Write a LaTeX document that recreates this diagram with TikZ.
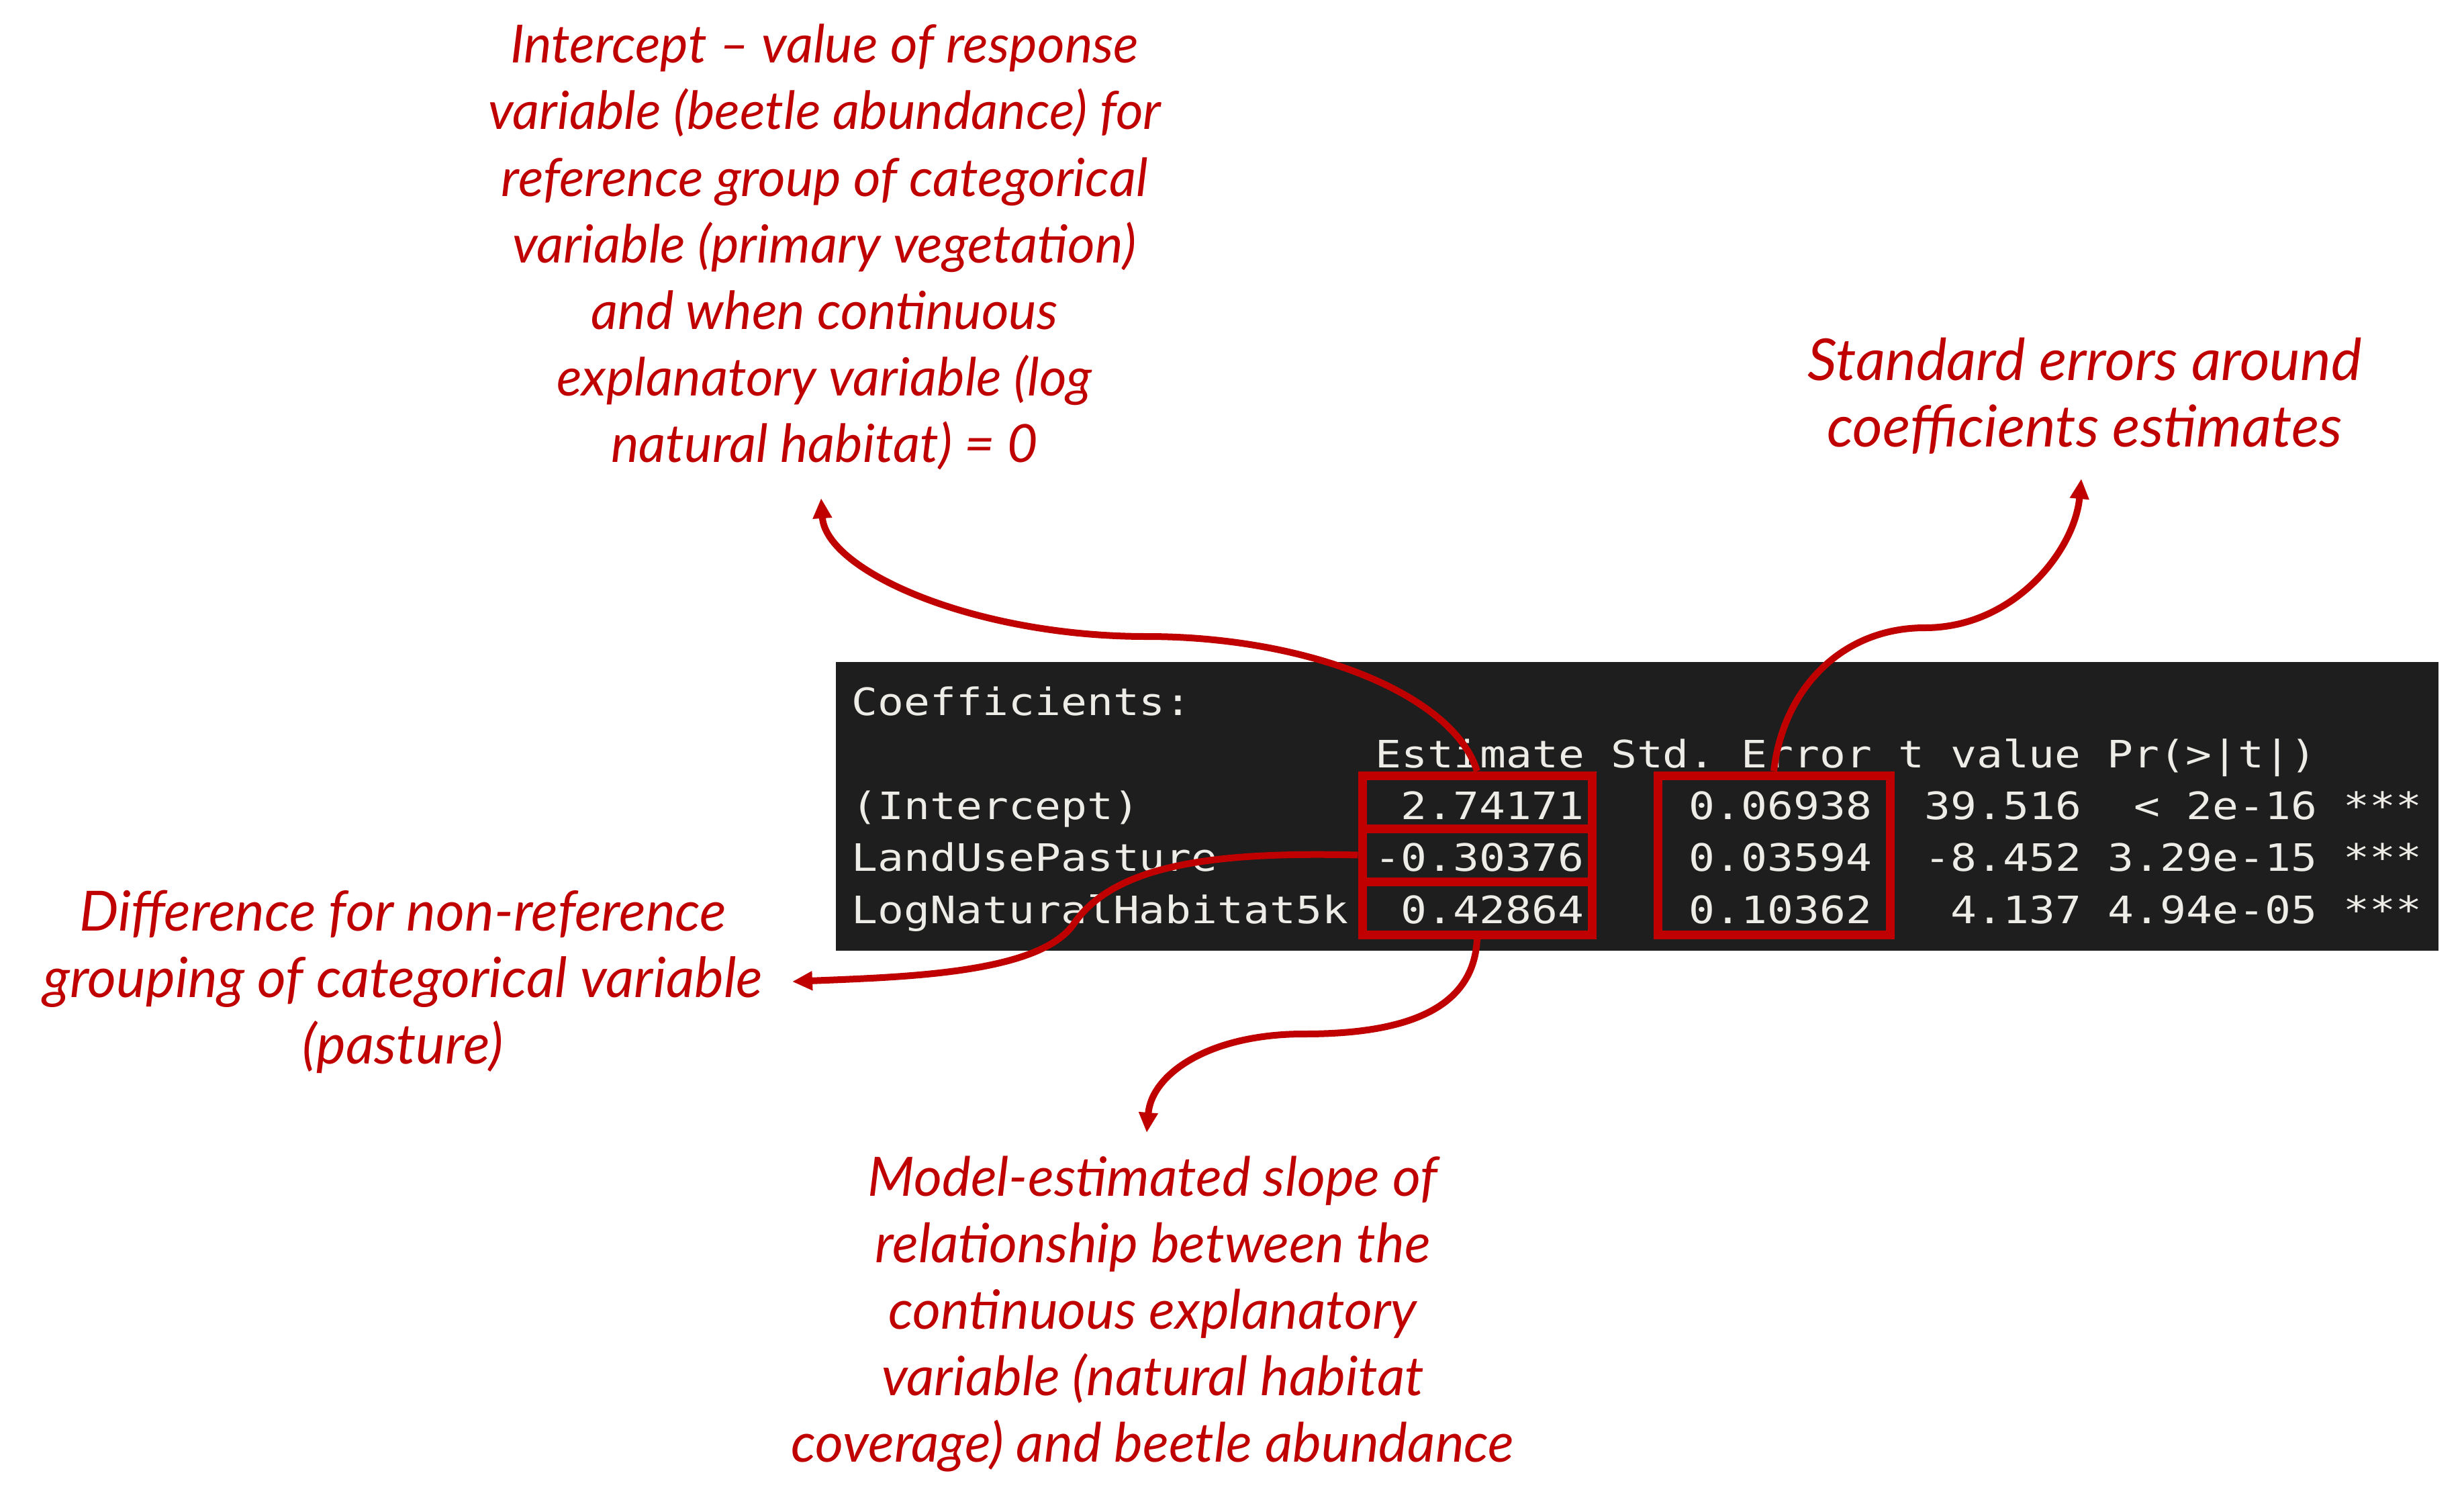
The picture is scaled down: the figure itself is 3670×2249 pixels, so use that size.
\documentclass[tikz,border=0pt]{standalone}
\usepackage{fontspec}
\usetikzlibrary{arrows.meta}
\newfontfamily\monofont{DejaVu Sans Mono}[FakeStretch=1.15]
\newfontfamily\handfont{Lato}[Ligatures=TeX]
\definecolor{callred}{HTML}{C00000}
\definecolor{termbg}{HTML}{1E1E1E}
\definecolor{termfg}{HTML}{EEECE7}
\frenchspacing
\begin{document}
\begin{tikzpicture}[x=0.1mm, y=-0.1mm,
  term/.style={font=\monofont\fontsize{16}{19}\selectfont, text=termfg, inner sep=0pt},
  cell/.style={term, anchor=base east},
  lbl/.style={term, anchor=base west},
  hl/.style={draw=callred, line width=1.3mm, minimum width=34.2mm, minimum height=7.9mm, inner sep=0pt},
  callout/.style={text=callred, font=\handfont\itshape\fontsize{#1}{28.2}\selectfont, align=center, inner sep=0pt},
  callout/.default=23,
  link/.style={draw=callred, line width=1mm, -{Triangle[length=3mm,width=2.7mm]}}]
\fill[white] (0,0) rectangle (3670,2249);
\useasboundingbox (0,0) rectangle (3670,2249);
% terminal panel
\fill[termbg] (1245,986) rectangle (3632,1416);
\node[lbl] (coef) at (1268,1065) {Coefficients:};
\node[lbl] (head) at (2048,1143) {Estimate Std. Error t value Pr(>|t|)};
\node[lbl] (r1) at (1268,1220) {(Intercept)};
\node[lbl] (r2) at (1268,1297) {LandUsePasture};
\node[lbl] (r3) at (1268,1375) {LogNaturalHabitat5k};
\node[cell] (e1) at (2360,1220) {2.74171};
\node[cell] (e2) at (2360,1297) {-0.30376};
\node[cell] (e3) at (2360,1375) {0.42864};
\node[cell] (s1) at (2789,1220) {0.06938};
\node[cell] (s2) at (2789,1297) {0.03594};
\node[cell] (s3) at (2789,1375) {0.10362};
\node[cell] (t1) at (3101,1220) {39.516};
\node[cell] (t2) at (3101,1297) {-8.452};
\node[cell] (t3) at (3101,1375) {4.137};
\node[cell] (p1) at (3452,1220) {< 2e-16};
\node[cell] (p2) at (3452,1297) {3.29e-15};
\node[cell] (p3) at (3452,1375) {4.94e-05};
\node[cell] (g1) at (3608,1220) {***};
\node[cell] (g2) at (3608,1297) {***};
\node[cell] (g3) at (3608,1375) {***};
% highlight boxes
\node[hl] (estA) at (2200,1194.5) {};
\node[hl] (estB) at (2200,1273.5) {};
\node[hl] (estC) at (2200,1352.5) {};
\node[hl, minimum width=34.6mm, minimum height=23.7mm] (seBox) at (2642,1273.5) {};
% callouts
\node[callout=22.3] (topnote) at (1228,368) {Intercept – value of response\\variable (beetle abundance) for\\reference group of categorical\\variable (primary vegetation)\\and when continuous\\explanatory variable (log\\natural habitat) = 0};
\node[callout=24.5] (senote) at (3105,590) {Standard errors around\\coefficients estimates};
\node[callout=23.5] (diffnote) at (600,1462) {Difference for non-reference\\grouping of categorical variable\\(pasture)};
\node[callout=23] (slopenote) at (1717,1957) {Model-estimated slope of\\relationship between the\\continuous explanatory\\variable (natural habitat\\coverage) and beetle abundance};
% arrow tips
\coordinate (topTip) at (1223,742);
\coordinate (seTip) at (3100,713);
\coordinate (diffTip) at (1180,1462);
\coordinate (slopeTip) at (1708,1687);
% connectors
\draw[link] (estA.north) .. controls (2165,1035) and (1950,948) .. (1708,948) .. controls (1450,948) and (1230,850) .. (topTip);
\draw[link] (seBox.north) .. controls (2655,1030) and (2740,935) .. (2867,935) .. controls (3000,935) and (3090,820) .. (seTip);
\draw[link] (estB.west) .. controls (1800,1268) and (1660,1290) .. (1600,1375) .. controls (1550,1450) and (1350,1455) .. (diffTip);
\draw[link] (estC.south) .. controls (2195,1510) and (2080,1540) .. (1942,1540) .. controls (1800,1540) and (1715,1600) .. (slopeTip);
\end{tikzpicture}
\end{document}
